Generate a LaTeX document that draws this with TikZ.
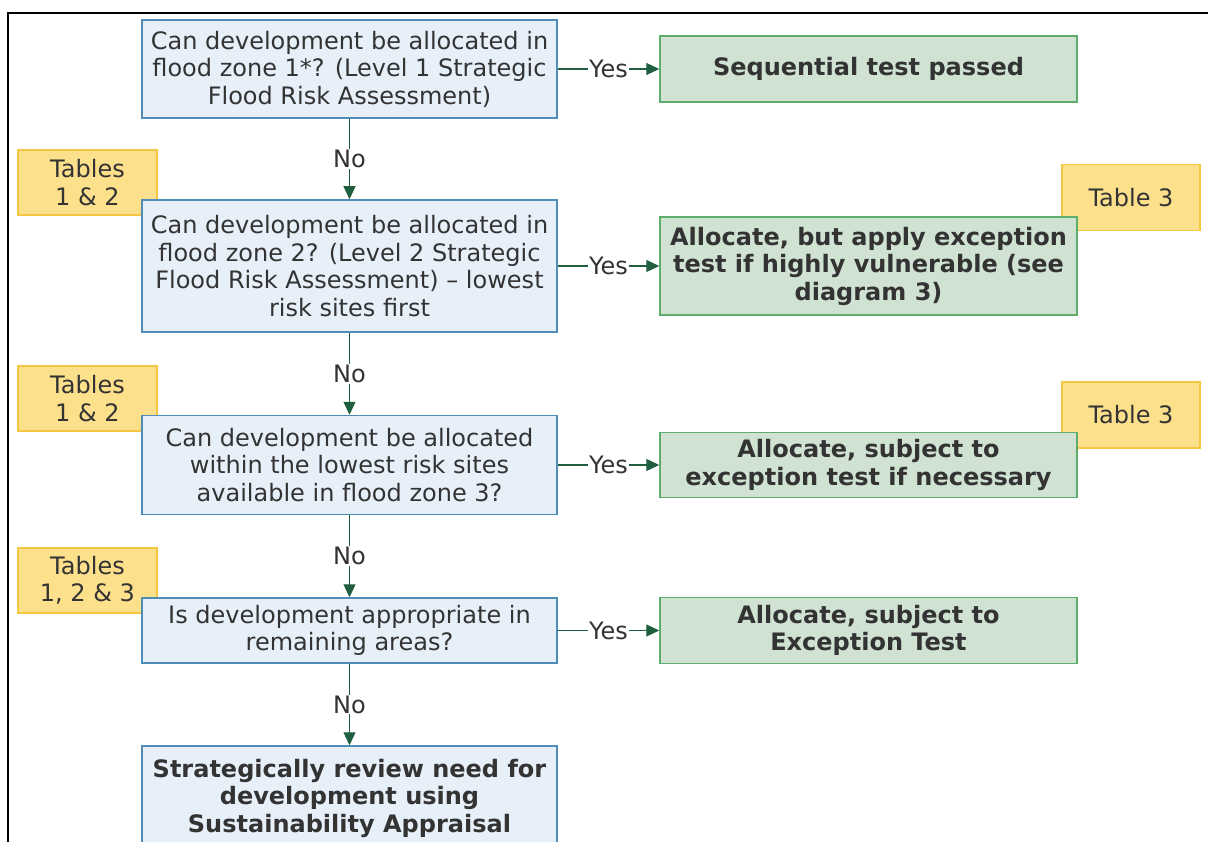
\documentclass[tikz,border=0pt]{standalone}
\usepackage{fontspec}
\setmainfont{DejaVu Sans}
\usetikzlibrary{shapes,arrows.meta,positioning}
\definecolor{qfill}{HTML}{E7F0F9}
\definecolor{qdraw}{HTML}{4F8DB8}
\definecolor{ofill}{HTML}{D0E2D2}
\definecolor{odraw}{HTML}{5EAD6C}
\definecolor{tfill}{HTML}{FDE08C}
\definecolor{tdraw}{HTML}{F4C743}
\definecolor{flowc}{HTML}{1F5E3E}
\definecolor{txt}{HTML}{333333}
\tikzstyle{question} = [draw=qdraw,fill=qfill,line width=1.5pt,rectangle,align=center,minimum width=415pt,inner sep=0,text=txt,font=\fontsize{24}{27.5}\selectfont]
\tikzstyle{outcome} = [draw=odraw,fill=ofill,line width=1.5pt,rectangle,align=center,minimum width=417pt,inner sep=0,text=txt,font=\fontsize{24}{27.5}\selectfont\bfseries]
\tikzstyle{tableref} = [draw=tdraw,fill=tfill,line width=1.2pt,rectangle,align=center,minimum width=139pt,minimum height=65pt,inner sep=0,text=txt,font=\fontsize{24}{27.5}\selectfont]
\tikzstyle{flow} = [-{Triangle[length=13pt,width=12pt]},line width=1.2pt,color=flowc]
\tikzstyle{answer} = [fill=white,text=txt,inner sep=1pt,font=\fontsize{24}{27.5}\selectfont]
\def \qx {349.5}
\def \ox {868.5}

\begin{document}
\begin{tikzpicture}[x=1pt,y=-1pt]
      \useasboundingbox (0,0) rectangle (1208,842);
      \clip (0,0) rectangle (1208,842);
      % table references (behind the boxes)
      \node[tableref] (t1) at (87.5,182.5) {Tables\\1 \& 2};
      \node[tableref] (t2) at (87.5,398.5) {Tables\\1 \& 2};
      \node[tableref] (t3) at (87.5,580.5) {Tables\\1, 2 \& 3};
      \node[tableref,minimum width=138pt,minimum height=66pt] (t4) at (1131,197.5) {Table 3};
      \node[tableref,minimum width=138pt,minimum height=66pt] (t5) at (1131,415) {Table 3};
      % questions
      \node[question,minimum height=98pt] (q1) at (\qx,69) {Can development be allocated in\\flood zone 1*? (Level 1 Strategic\\Flood Risk Assessment)};
      \node[question,minimum height=132pt] (q2) at (\qx,266) {Can development be allocated in\\flood zone 2? (Level 2 Strategic\\Flood Risk Assessment) – lowest\\risk sites first};
      \node[question,minimum height=99pt] (q3) at (\qx,465) {Can development be allocated\\within the lowest risk sites\\available in flood zone 3?};
      \node[question,minimum height=65pt] (q4) at (\qx,630.5) {Is development appropriate in\\remaining areas?};
      \node[question,minimum height=104pt,font=\fontsize{24}{27.5}\selectfont\bfseries] (q5) at (\qx,798) {Strategically review need for\\development using\\Sustainability Appraisal};
      % outcomes
      \node[outcome,minimum height=66pt] (o1) at (\ox,69) {Sequential test passed};
      \node[outcome,minimum height=98pt] (o2) at (\ox,266) {Allocate, but apply exception\\test if highly vulnerable (see\\diagram 3)};
      \node[outcome,minimum height=65pt] (o3) at (\ox,465) {Allocate, subject to\\exception test if necessary};
      \node[outcome,minimum height=66pt] (o4) at (\ox,630.5) {Allocate, subject to\\Exception Test};
      % connectors
      \draw[flow] (q1) -- node[answer] {Yes} (o1);
      \draw[flow] (q2) -- node[answer] {Yes} (o2);
      \draw[flow] (q3) -- node[answer] {Yes} (o3);
      \draw[flow] (q4) -- node[answer] {Yes} (o4);
      \draw[flow] (q1) -- node[answer] {No} (q2);
      \draw[flow] (q2) -- node[answer] {No} (q3);
      \draw[flow] (q3) -- node[answer] {No} (q4);
      \draw[flow] (q4) -- node[answer] {No} (q5);
      % frame
      \draw[line width=2pt] (8,842) -- (8,13) -- (1208,13);
    \end{tikzpicture}
\end{document}
